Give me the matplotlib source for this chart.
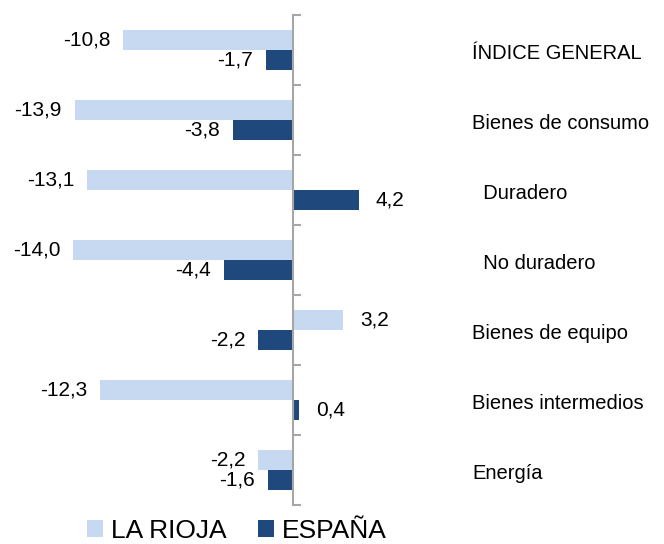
import matplotlib
matplotlib.use("Agg")
import matplotlib.pyplot as plt
import matplotlib.transforms as mtransforms
import numpy as np

### Data ###
categories = ["ÍNDICE GENERAL", "Bienes de consumo", "  Duradero", "  No duradero",
              "Bienes de equipo", "Bienes intermedios", "Energía"]
la_rioja = [-10.8, -13.9, -13.1, -14.0, 3.2, -12.3, -2.2]
espana = [-1.7, -3.8, 4.2, -4.4, -2.2, 0.4, -1.6]
series_names = ["LA RIOJA", "ESPAÑA"]
### End data ###

light = "#C6D9F1"
dark = "#1F497D"
axis_grey = "#A6A6A6"

plt.rcParams["font.family"] = ["Liberation Sans", "DejaVu Sans"]

fig = plt.figure(figsize=(6.64, 5.44), dpi=100)
W, H = 664, 544
# plot area: x=0 sits at pixel 293, one unit ~15.7 px
x0_px, unit_px = 293, 15.7
left_px, right_px = 20, 460
top_px, bottom_px = 15, 505
ax = fig.add_axes([left_px / W, 1 - bottom_px / H,
                   (right_px - left_px) / W, (bottom_px - top_px) / H])
ax.set_xlim(-(x0_px - left_px) / unit_px, (right_px - x0_px) / unit_px)
ax.set_ylim(len(categories) - 0.5, -0.5)

y = np.arange(len(categories))
h = 0.286
ax.barh(y - h / 2, la_rioja, height=h, color=light, label=series_names[0])
ax.barh(y + h / 2, espana, height=h, color=dark, label=series_names[1])

# value labels
for vals, off in ((la_rioja, -h / 2), (espana, h / 2)):
    for yi, v in zip(y, vals):
        txt = f"{v:.1f}".replace(".", ",")
        if v < 0:
            ax.annotate(txt, (v, yi + off), xytext=(-13, 0), textcoords="offset pixels",
                        ha="right", va="center", fontsize=15)
        else:
            ax.annotate(txt, (v, yi + off), xytext=(17, 0), textcoords="offset pixels",
                        ha="left", va="center", fontsize=15)

# category labels on the right
trans = mtransforms.blended_transform_factory(fig.transFigure, ax.transData)
for yi, name in zip(y, categories):
    ax.text(472 / W, yi + 0.05, name, transform=trans, ha="left", va="center",
            fontsize=14.5)

# axis: only a grey vertical line at zero with ticks between categories
for s in ("top", "right", "bottom"):
    ax.spines[s].set_visible(False)
ax.spines["left"].set_position(("data", 0))
ax.spines["left"].set_color(axis_grey)
ax.spines["left"].set_linewidth(1.5)
ax.set_xticks([])
ax.set_yticks(np.arange(-0.5, len(categories), 1.0))
ax.set_yticklabels([])
ax.tick_params(axis="y", direction="in", length=6, width=1.5, color=axis_grey)

fig.legend(loc="center", bbox_to_anchor=(237 / W, 1 - 531 / H), ncol=2, frameon=False,
           fontsize=19, handlelength=0.6, handleheight=0.6, handletextpad=0.3,
           columnspacing=1.2, borderpad=0)

fig.savefig("out.png", dpi=100)
